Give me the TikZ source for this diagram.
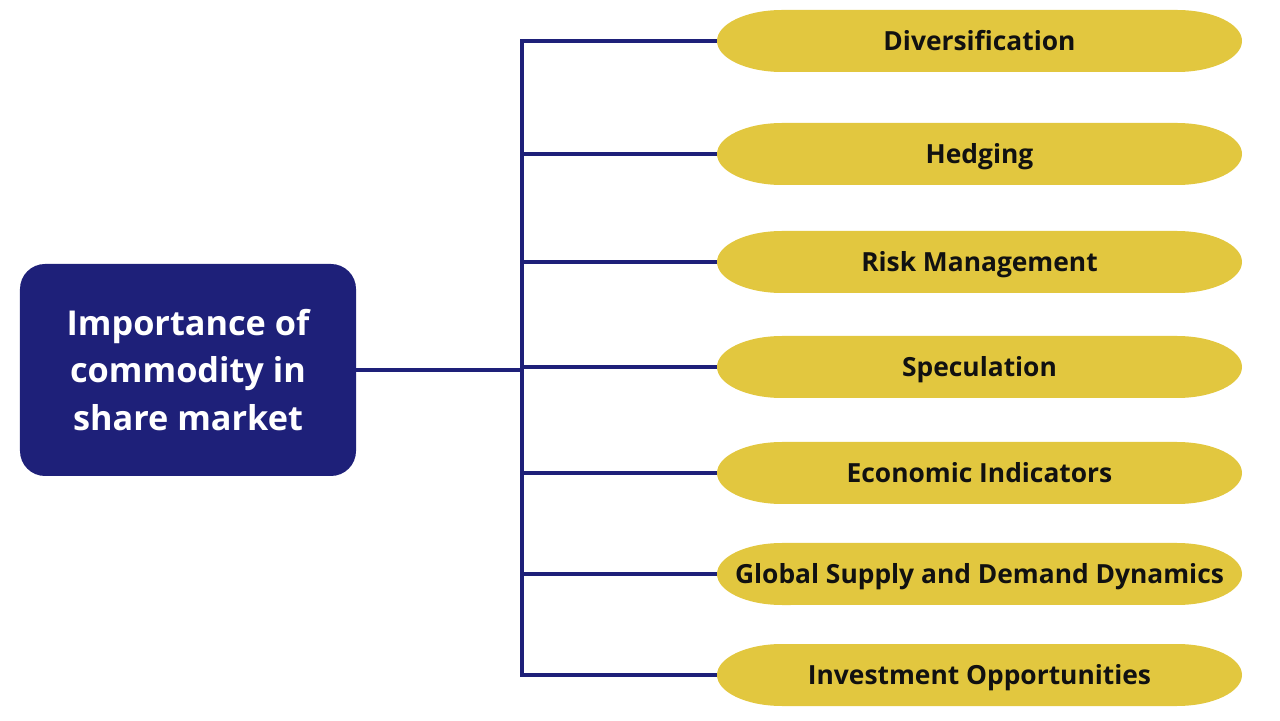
\documentclass[tikz,border=0pt]{standalone}
\usepackage{fontspec}
\setmainfont{Open Sans}
\usepackage{tikz}
\usetikzlibrary{positioning,calc}
\definecolor{navy}{HTML}{1E2079}
\definecolor{gold}{HTML}{E2C73F}
\definecolor{ink}{HTML}{111111}
\tikzset{
  topic/.style={rectangle, rounded corners=0.5cm, fill=navy, text=white,
                align=center, font=\fontsize{19.5}{27}\selectfont\bfseries,
                minimum width=6.72cm, minimum height=4.24cm},
  pill/.style={minimum width=10.5cm, minimum height=1.24cm, inner sep=0pt,
               text height=10.7pt, text depth=0pt,
               text=ink, font=\fontsize{15}{18}\selectfont\bfseries,
               path picture={\fill[gold]
                 ([xshift=1.3cm]path picture bounding box.north west)
                 -- ([xshift=-1.3cm]path picture bounding box.north east)
                 arc[start angle=90, end angle=-90, x radius=1.3cm, y radius=0.62cm]
                 -- ([xshift=1.3cm]path picture bounding box.south west)
                 arc[start angle=270, end angle=90, x radius=1.3cm, y radius=0.62cm]
                 -- cycle;}},
  link/.style={draw=navy, line width=2.1pt}
}

\begin{document}
\begin{tikzpicture}
  \useasboundingbox (0,0) rectangle (25.6,14.4);
  \node[topic] (main) at (3.76,7.0) {Importance of\\commodity in\\share market};

  \node[pill] (p1) at (19.59,13.58) {Diversification};
  \node[pill] (p2) at (19.59,11.32) {Hedging};
  \node[pill] (p3) at (19.59,9.16) {Risk Management};
  \node[pill] (p4) at (19.59,7.06) {Speculation};
  \node[pill] (p5) at (19.59,4.94) {Economic Indicators};
  \node[pill] (p6) at (19.59,2.92) {Global Supply and Demand Dynamics};
  \node[pill] (p7) at (19.59,0.9) {Investment Opportunities};

  % trunk of the bracket
  \coordinate (trunk) at (10.44,7.0);
  \draw[link] (p1.west) -- (p1.west -| trunk) -- (p7.west -| trunk) -- (p7.west);
  \foreach \i in {2,...,6}
     \draw[link] (p\i.west -| trunk) -- (p\i.west);
  \draw[link] (main.east) -- (main.east -| trunk);
\end{tikzpicture}
\end{document}
